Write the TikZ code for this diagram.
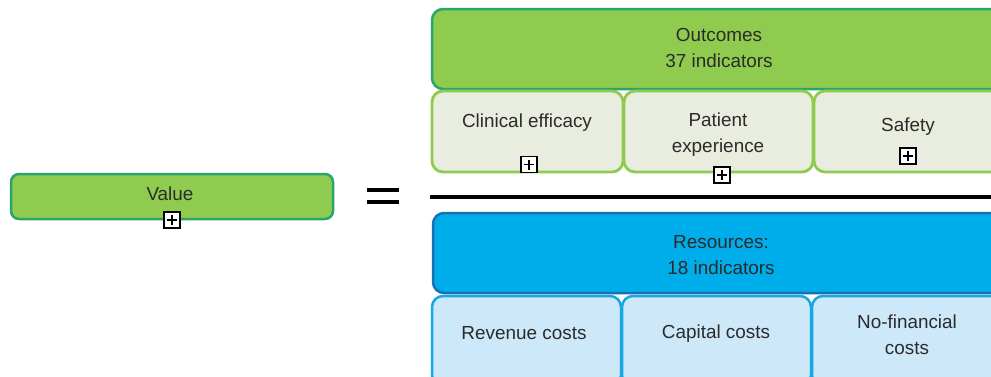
\documentclass[tikz,border=0pt]{standalone}
\usepackage{fontspec}
\setmainfont{Liberation Sans}

\definecolor{valgreen}{HTML}{8FCB4F}
\definecolor{valedge}{HTML}{27A56B}
\definecolor{subgreen}{HTML}{E8EDDF}
\definecolor{resblue}{HTML}{00ADEB}
\definecolor{resedge}{HTML}{1B6FB4}
\definecolor{subblue}{HTML}{CDE8F8}
\definecolor{subblueedge}{HTML}{16A8E5}
\definecolor{txt}{HTML}{2B2B2B}

\tikzset{
  box/.style={rectangle, rounded corners=11pt, inner sep=0pt},
  greenbox/.style={box, fill=valgreen, draw=valedge, line width=2.5pt},
  greensub/.style={box, fill=subgreen, draw=valgreen, line width=2.8pt},
  bluebox/.style={box, fill=resblue, draw=resedge, line width=2.5pt},
  bluesub/.style={box, fill=subblue, draw=subblueedge, line width=2.5pt},
  lbl/.style={inner sep=0pt, text=txt, align=center,
    font=\fontsize{18.9}{26}\selectfont},
  plusbox/.style={rectangle, draw=black, fill=white, line width=1.1pt,
    minimum size=16pt, inner sep=0pt,
    path picture={
      \draw[line width=1.1pt]
        ([xshift=3pt]path picture bounding box.west) --
        ([xshift=-3pt]path picture bounding box.east)
        ([yshift=-3pt]path picture bounding box.north) --
        ([yshift=3pt]path picture bounding box.south);}},
  eqsign/.style={minimum width=32pt, minimum height=15.5pt, inner sep=0pt,
    path picture={
      \fill[black] (path picture bounding box.north west) rectangle
        ([yshift=-4pt]path picture bounding box.north east);
      \fill[black] (path picture bounding box.south west) rectangle
        ([yshift=4pt]path picture bounding box.south east);}},
  divider/.style={line width=3.4pt, black}
}

\begin{document}
\begin{tikzpicture}[x=1pt, y=-1pt]
  \clip (0,0) rectangle (991,376);

  % left-hand side
  \node[greenbox, rounded corners=8pt, minimum width=322pt, minimum height=45pt] (value) at (172,196.5) {};
  \node[lbl] (valueT) at (170,194) {Value};
  \node[plusbox] (valueP) at (172,220) {};

  \node[eqsign] (eq) at (383,196) {};

  % numerator: outcomes
  \node[greenbox, minimum width=574pt, minimum height=80pt] (outcomes) at (719,49) {};
  \node[lbl] (outcomesT) at (719,47.5) {Outcomes\\37 indicators};

  \node[greensub, minimum width=191pt, minimum height=81pt] (clin) at (527.5,131.5) {};
  \node[greensub, minimum width=189pt, minimum height=81pt] (pat) at (718.5,131.5) {};
  \node[greensub, minimum width=190pt, minimum height=81pt] (safe) at (909,131.5) {};

  \node[lbl] (clinT) at (527,123) {Clinical efficacy};
  \node[lbl] (patT) at (718,134.5) {Patient\\experience};
  \node[lbl] (safeT) at (908,127) {Safety};

  \node[plusbox] (clinP) at (529,164.5) {};
  \node[plusbox] (patP) at (722,175) {};
  \node[plusbox] (safeP) at (908,156) {};

  % fraction bar
  \coordinate (divL) at (430,197);
  \coordinate (divR) at (1000,197);
  \draw[divider] (divL) -- (divR);

  % denominator: resources
  \node[bluebox, minimum width=573pt, minimum height=80pt] (res) at (719.5,253) {};
  \node[lbl] (resT) at (721,255) {Resources:\\18 indicators};

  \node[bluesub, minimum width=189pt, minimum height=90pt] (rev) at (526.5,341) {};
  \node[bluesub, minimum width=189pt, minimum height=90pt] (cap) at (716.5,341) {};
  \node[bluesub, minimum width=190pt, minimum height=90pt] (nonfin) at (907,341) {};

  \node[lbl] (revT) at (524,333) {Revenue costs};
  \node[lbl] (capT) at (716,334) {Capital costs};
  \node[lbl] (nonfinT) at (907,335) {No-financial\\costs};
\end{tikzpicture}
\end{document}
